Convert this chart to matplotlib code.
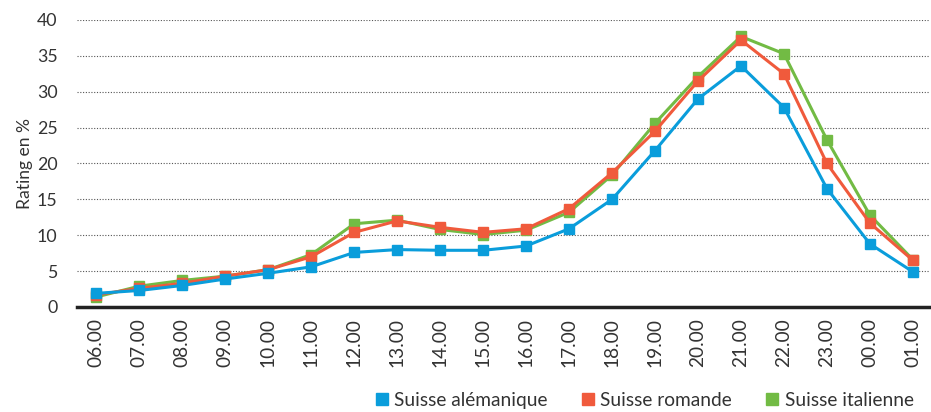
import matplotlib
matplotlib.use("Agg")
import matplotlib.pyplot as plt
from matplotlib.lines import Line2D

plt.rcParams['font.family'] = ['Lato', 'DejaVu Sans']

hours = ["06.00", "07.00", "08.00", "09.00", "10.00", "11.00", "12.00", "13.00",
         "14.00", "15.00", "16.00", "17.00", "18.00", "19.00", "20.00", "21.00",
         "22.00", "23.00", "00.00", "01.00"]
alemanique = [1.9, 2.3, 3.0, 3.9, 4.7, 5.6, 7.6, 8.0, 7.9, 7.9, 8.5, 10.9, 15.0,
              21.8, 29.0, 33.6, 27.8, 16.5, 8.8, 4.9]
romande = [1.7, 2.6, 3.3, 4.3, 5.2, 7.0, 10.4, 12.0, 11.1, 10.4, 10.9, 13.7, 18.7,
           24.5, 31.5, 37.2, 32.5, 20.0, 11.7, 6.5]
italienne = [1.4, 2.9, 3.7, 4.3, 5.2, 7.3, 11.6, 12.1, 10.8, 10.1, 10.7, 13.2, 18.4,
             25.6, 32.1, 37.7, 35.3, 23.3, 12.8, 6.6]
series_names = ["Suisse alémanique", "Suisse romande", "Suisse italienne"]
colors = ["#0a9ddb", "#f05a3c", "#72bb44"]

fig = plt.figure(figsize=(9.31, 4.12), dpi=100)
ax = fig.add_axes([0.0827, 0.2549, 0.9163, 0.6966])

x = list(range(len(hours)))
for vals, c, name in [(italienne, colors[2], series_names[2]),
                      (romande, colors[1], series_names[1]),
                      (alemanique, colors[0], series_names[0])]:
    ax.plot(x, vals, color=c, lw=2.2, marker='s', ms=7, mec=c, mfc=c, label=name)

ax.set_xlim(-0.45, 19.4)
ax.set_ylim(0, 40)
ax.set_yticks(range(0, 41, 5))
ax.set_xticks(x)
ax.set_xticklabels(hours, rotation=90, fontsize=13.8, color='#333333')
ax.tick_params(axis='y', labelsize=12.8, labelcolor='#333333', length=0, pad=14)
ax.tick_params(axis='x', length=0, pad=8)
ax.yaxis.grid(True, linestyle=(0, (1, 1.5)), color='#555555', lw=0.8)
ax.set_axisbelow(True)
for s in ['top', 'right', 'left']:
    ax.spines[s].set_visible(False)
ax.spines['bottom'].set_linewidth(2.5)
ax.spines['bottom'].set_color('#222222')
ax.set_ylabel("Rating en %", fontsize=12.6, color='#333333', labelpad=3)

handles = [Line2D([], [], ls='none', marker='s', ms=8, color=c) for c in colors]
fig.legend(handles, series_names, loc='lower right', bbox_to_anchor=(1.0, -0.035),
           ncol=3, frameon=False, fontsize=13.8, handletextpad=0.15,
           columnspacing=1.6, handlelength=1.0, labelcolor='#333333')

fig.savefig("out.png", dpi=100)
